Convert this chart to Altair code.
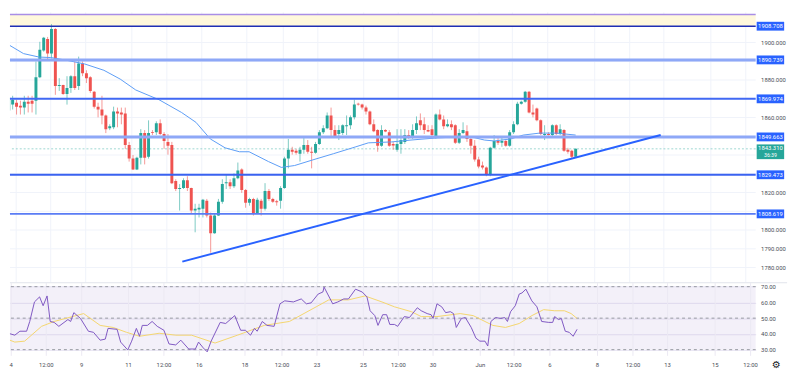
import altair as alt
import pandas as pd

# ---------------- data (4h candles, XAU/USD) ----------------
opens = [1863.7, 1866.9, 1867.9, 1866.35, 1865.3, 1868.4, 1869.0, 1869.0, 1881.5, 1895.7,
         1901.9, 1894.1, 1907.2, 1876.8, 1877.3, 1872.6, 1875.8, 1882.05, 1876.8, 1888.85,
         1883.6, 1881.5, 1873.7, 1865.8, 1864.3, 1861.1, 1854.3, 1854.8, 1863.2, 1862.7,
         1862.2, 1845.4, 1838.1, 1832.3, 1838.6, 1851.7, 1839.1, 1852.2, 1852.2, 1856.9,
         1851.2, 1847.0, 1845.4, 1826.1, 1821.9, 1822.4, 1826.6, 1822.4, 1810.4, 1810.9,
         1811.4, 1815.6, 1807.7, 1798.3, 1807.7, 1815.1, 1825.0, 1825.5, 1823.4, 1827.6,
         1832.3, 1821.35, 1814.5, 1816.6, 1808.8, 1815.6, 1811.4, 1820.8, 1816.6, 1815.4,
         1815.6, 1822.4, 1838.1, 1842.8, 1842.3, 1840.7, 1842.8, 1845.4, 1841.75, 1841.2,
         1845.9, 1852.2, 1854.3, 1861.1, 1853.3, 1851.2, 1851.7, 1855.4, 1855.9, 1860.1,
         1867.4, 1866.9, 1865.3, 1863.2, 1856.4, 1853.3, 1844.9, 1853.3, 1852.2, 1845.9,
         1842.8, 1845.9, 1847.0, 1850.65, 1849.6, 1853.3, 1858.5, 1856.4, 1853.3, 1853.8,
         1850.1, 1861.6, 1859.0, 1855.4, 1856.4, 1855.9, 1846.5, 1851.7, 1852.7, 1848.6,
         1844.9, 1837.6, 1834.4, 1833.4, 1829.7, 1843.85, 1847.5, 1846.5, 1847.5, 1844.9,
         1852.2, 1856.4, 1867.4, 1868.4, 1873.7, 1862.7, 1864.8, 1858.5, 1850.65, 1851.2,
         1850.65, 1855.9, 1851.2, 1853.3, 1842.8, 1842.3, 1839.1]
highs = [1877.3, 1871.6, 1869.5, 1869.0, 1871.6, 1871.6, 1871.6, 1889.9, 1900.4, 1903.0,
         1903.0, 1909.8, 1907.7, 1881.0, 1877.5, 1882.05, 1882.6, 1889.9, 1892.5, 1889.9,
         1885.2, 1882.05, 1874.2, 1867.9, 1871.6, 1861.6, 1856.4, 1865.8, 1865.3, 1865.3,
         1865.3, 1847.0, 1840.0, 1839.1, 1853.8, 1853.3, 1858.5, 1853.3, 1858.0, 1859.0,
         1852.2, 1851.2, 1847.0, 1827.1, 1824.5, 1827.6, 1828.7, 1822.6, 1814.0, 1814.0,
         1816.6, 1816.6, 1809.3, 1808.8, 1816.6, 1827.1, 1829.7, 1827.1, 1830.2, 1836.0,
         1832.9, 1821.9, 1817.2, 1817.2, 1817.2, 1816.6, 1825.0, 1821.9, 1817.2, 1816.1,
         1823.4, 1839.1, 1848.6, 1844.4, 1843.3, 1844.4, 1850.1, 1848.0, 1844.4, 1847.0,
         1853.3, 1855.9, 1862.7, 1865.3, 1855.9, 1855.9, 1856.4, 1861.1, 1861.1, 1869.5,
         1867.9, 1867.4, 1866.35, 1863.7, 1859.0, 1853.8, 1855.9, 1853.8, 1853.3, 1847.0,
         1853.8, 1853.8, 1853.8, 1853.3, 1856.4, 1860.6, 1862.2, 1860.1, 1855.9, 1855.9,
         1862.2, 1864.3, 1861.1, 1859.0, 1858.5, 1856.4, 1853.8, 1857.45, 1855.9, 1849.6,
         1848.0, 1839.1, 1836.5, 1833.9, 1844.4, 1850.65, 1849.6, 1849.6, 1848.0, 1853.3,
         1858.0, 1868.4, 1869.0, 1874.2, 1874.2, 1866.9, 1865.3, 1859.0, 1855.9, 1852.2,
         1856.4, 1856.4, 1856.4, 1853.8, 1843.85, 1842.8, 1843.5]
lows = [1862.7, 1864.3, 1861.6, 1861.6, 1861.6, 1862.7, 1862.7, 1861.6, 1881.0, 1895.1,
        1890.4, 1891.5, 1872.1, 1874.2, 1872.1, 1866.9, 1873.15, 1874.7, 1874.7, 1882.05,
        1878.4, 1873.15, 1864.8, 1860.1, 1856.4, 1851.7, 1853.3, 1853.8, 1854.8, 1856.4,
        1843.3, 1836.5, 1832.0, 1832.0, 1835.0, 1835.0, 1838.1, 1850.65, 1850.65, 1850.65,
        1843.3, 1840.2, 1824.5, 1820.8, 1810.4, 1821.9, 1820.8, 1808.8, 1798.8, 1806.7,
        1806.7, 1806.7, 1787.9, 1798.0, 1807.5, 1814.0, 1821.9, 1821.9, 1822.4, 1827.1,
        1819.8, 1811.9, 1813.0, 1807.7, 1808.5, 1807.7, 1810.4, 1815.6, 1814.5, 1813.0,
        1811.4, 1822.0, 1832.9, 1840.2, 1840.2, 1836.5, 1840.7, 1840.7, 1832.9, 1840.7,
        1845.4, 1851.2, 1853.8, 1850.1, 1849.6, 1848.0, 1850.65, 1850.65, 1853.8, 1859.0,
        1866.35, 1864.3, 1861.6, 1855.9, 1852.2, 1841.75, 1844.4, 1852.2, 1844.4, 1842.8,
        1841.75, 1840.7, 1845.9, 1848.6, 1848.6, 1851.2, 1853.3, 1851.2, 1852.2, 1848.6,
        1848.6, 1858.5, 1853.8, 1854.8, 1853.3, 1845.9, 1845.9, 1851.2, 1847.0, 1840.7,
        1836.5, 1832.9, 1832.3, 1828.7, 1828.7, 1843.3, 1845.4, 1844.4, 1844.4, 1844.4,
        1851.2, 1855.9, 1866.9, 1867.9, 1862.2, 1860.1, 1858.0, 1850.65, 1848.0, 1850.4,
        1850.1, 1850.65, 1850.65, 1841.75, 1840.7, 1838.1, 1838.6]
closes = [1870.5, 1869.5, 1865.8, 1865.3, 1868.4, 1867.4, 1867.4, 1881.5, 1896.2, 1902.5,
          1894.1, 1907.2, 1876.8, 1877.3, 1872.6, 1875.8, 1882.05, 1875.8, 1888.85, 1883.6,
          1881.0, 1874.2, 1865.8, 1864.3, 1861.1, 1853.8, 1855.4, 1863.2, 1862.2, 1861.6,
          1845.4, 1838.1, 1832.3, 1838.6, 1851.7, 1838.6, 1851.7, 1851.7, 1856.9, 1851.2,
          1847.5, 1844.9, 1825.0, 1821.9, 1822.4, 1826.6, 1822.4, 1810.4, 1811.4, 1811.9,
          1816.1, 1807.7, 1798.3, 1807.7, 1815.1, 1824.5, 1825.5, 1823.4, 1827.6, 1831.8,
          1821.35, 1814.5, 1816.6, 1808.8, 1816.1, 1811.4, 1820.8, 1816.6, 1815.1, 1814.8,
          1822.4, 1838.1, 1842.8, 1841.75, 1841.2, 1842.8, 1845.4, 1841.75, 1841.2, 1845.9,
          1852.2, 1854.3, 1861.1, 1853.3, 1850.1, 1853.3, 1855.9, 1855.9, 1860.1, 1866.9,
          1866.9, 1865.3, 1863.2, 1856.4, 1852.7, 1844.9, 1853.3, 1852.5, 1844.9, 1845.1,
          1845.9, 1848.0, 1850.65, 1849.6, 1853.3, 1856.9, 1855.9, 1853.3, 1852.5, 1850.65,
          1861.6, 1859.0, 1855.4, 1856.4, 1854.8, 1846.5, 1851.7, 1853.3, 1848.6, 1844.9,
          1837.6, 1833.9, 1833.4, 1829.7, 1843.85, 1847.5, 1846.5, 1847.5, 1844.9, 1852.2,
          1856.4, 1867.4, 1868.4, 1873.7, 1862.7, 1861.6, 1858.5, 1851.2, 1851.2, 1850.65,
          1855.9, 1851.2, 1853.8, 1842.3, 1841.75, 1839.1, 1843.31]

# moving average on price (candle index, price)
ma_idx = [-0.42, 3.8, 7.8, 10.8, 14.5, 19.5, 24.5, 28.7, 32.7, 38.7, 44.5, 48.2, 51.9, 55.7,
          59.4, 61.9, 66.9, 70.2, 73.6, 78.6, 83.6, 89.4, 92.6, 98.6, 103.6, 110.1, 115.0,
          119.3, 122.5, 125.0, 129.3, 132.5, 136.7, 141.0, 146.0]
ma_val = [1899.3, 1894.1, 1892.25, 1892.0, 1890.7, 1888.6, 1885.2, 1880.5, 1874.7, 1869.5,
          1862.7, 1857.45, 1848.6, 1843.85, 1841.75, 1841.75, 1836.5, 1833.4, 1834.4, 1837.6,
          1840.7, 1844.4, 1846.5, 1847.0, 1848.0, 1849.1, 1849.6, 1849.6, 1848.0, 1847.5,
          1848.6, 1850.65, 1851.7, 1851.7, 1850.65]

# RSI and its moving average
rsi_idx = [-0.4, 0.3, 2.8, 4.1, 5.8, 6.6, 7.8, 9.1, 10.0, 11.0,
           11.8, 12.8, 14.0, 16.3, 17.0, 17.8, 19.5, 21.5, 22.8, 24.5,
           25.8, 26.5, 28.8, 29.7, 31.5, 32.5, 33.7, 34.5, 35.2, 36.5,
           37.7, 39.0, 40.7, 42.0, 43.7, 45.0, 47.0, 48.7, 49.5, 50.7,
           51.7, 52.7, 55.0, 56.4, 58.7, 60.2, 61.4, 62.7, 63.7, 64.4,
           65.7, 66.9, 68.7, 70.2, 71.4, 73.6, 75.6, 76.9, 78.1, 79.9,
           81.1, 81.4, 83.6, 84.9, 86.4, 87.6, 89.4, 91.1, 92.3, 93.1,
           94.3, 95.1, 96.3, 97.3, 98.1, 99.3, 100.1, 101.8, 103.1, 105.1,
           106.1, 107.6, 108.6, 109.1, 110.1, 111.3, 112.3, 113.5, 114.3, 115.0,
           116.3, 117.3, 118.8, 120.0, 121.0, 122.3, 123.0, 123.8, 125.0, 126.3,
           127.3, 128.0, 128.8, 130.0, 131.0, 131.7, 132.7, 134.2, 135.5, 136.7,
           138.5, 139.5, 140.0, 141.0, 141.7, 142.7, 143.7, 144.7, 145.7]
rsi_val = [40.4, 41.0, 39.2, 41.7, 41.7, 47.9, 60.3, 63.5, 57.9, 64.1,
           47.9, 47.3, 44.8, 49.1, 47.9, 53.5, 49.8, 41.7, 41.0, 36.0,
           36.7, 43.5, 42.9, 34.8, 29.8, 35.4, 43.5, 38.5, 45.4, 45.4,
           47.9, 44.8, 42.3, 33.6, 33.0, 36.0, 30.4, 30.4, 34.8, 31.1,
           28.6, 35.4, 47.3, 46.6, 51.6, 42.3, 42.3, 39.2, 43.5, 41.7,
           47.9, 45.4, 44.8, 59.1, 61.0, 60.3, 62.2, 59.1, 59.7, 65.3,
           66.6, 69.7, 59.1, 60.3, 62.2, 62.2, 68.4, 66.6, 63.5, 54.7,
           51.6, 45.4, 52.2, 52.2, 46.0, 46.0, 44.8, 51.0, 50.4, 56.6,
           54.7, 52.9, 52.2, 49.8, 59.1, 57.2, 53.5, 54.1, 52.9, 44.1,
           49.8, 50.4, 44.1, 37.3, 35.4, 35.4, 32.3, 47.9, 50.4, 49.8,
           50.4, 47.9, 54.1, 57.9, 65.3, 66.0, 68.4, 61.0, 57.2, 47.9,
           47.3, 47.3, 51.0, 49.1, 49.8, 41.7, 41.0, 38.5, 42.9]
rsi_ma_idx = [-0.4, 2.8, 5.3, 9.6, 12.8, 20.3, 24.5, 27.8, 31.2, 34.5, 39.5, 43.7, 47.7,
              53.7, 59.4, 66.2, 72.6, 79.4, 82.6, 87.6, 91.8, 96.1, 99.3, 103.6, 106.1,
              110.1, 116.0, 119.3, 124.3, 127.5, 131.0, 134.2, 137.2, 140.0, 142.5, 144.2, 145.7]
rsi_ma_val = [37.9, 34.8, 35.4, 44.8, 47.9, 52.9, 45.4, 44.1, 41.0, 38.5, 40.4, 39.2, 39.2,
              34.2, 39.2, 45.4, 47.9, 57.2, 61.6, 61.6, 64.1, 60.3, 57.2, 54.1, 51.0,
              51.0, 52.9, 51.6, 45.4, 44.1, 46.6, 51.6, 55.4, 54.7, 54.7, 52.9, 49.8]

# drawings
level_prices = [1908.708, 1890.739, 1869.974, 1849.663, 1829.473, 1808.619]
zone_low = 1908.708
zone_high = 1915.0
last_price = 1843.310
countdown = "36:39"
trend_idx = [44.7, 167.9]
trend_price = [1783.15, 1850.65]

# time axis
tick_pos = [1.9, 10.8, 19.8, 31.7, 40.7, 49.7, 61.3, 70.7, 79.6, 91.4,
            100.3, 109.1, 121.1, 129.7, 138.8, 150.9, 159.9, 168.7, 180.8, 189.8]
tick_text = ["4", "12:00", "9", "11", "12:00", "16", "18", "12:00", "23", "25",
             "12:00", "30", "Jun", "12:00", "6", "8", "12:00", "13", "15", "12:00"]
price_grid = list(range(1780, 1911, 10))
price_labels = [1780, 1790, 1800, 1820, 1860, 1880, 1900]   # the ones not hidden by tags
rsi_ticks = [30, 40, 50, 60, 70]

# ---------------- styles / layout ----------------
W, HP, HR = 760, 275, 74
BX0, BX1 = 761, 789          # price-scale tags (pixels right of the plot)
BXC = (BX0 + BX1) / 2
FONT = "Roboto"
LBL = "#4a4d57"
level_styles = [("#1f2fb5", 1.5), ("#8ea8f7", 3), ("#4169f3", 2),
                ("#8ea8f7", 3), ("#3a62f0", 2), ("#5a7cf5", 2)]

xs = alt.Scale(domain=[1.5711, 1.5711 + W / 4.01], nice=False, zero=False)
ps = alt.Scale(domain=[1772.16, 1916.07], nice=False, zero=False)
rs = alt.Scale(domain=[26.07, 72.18], nice=False, zero=False)

price_axis = alt.Axis(orient="right", values=price_labels, format=".3f", grid=False,
                      ticks=False, domain=False, labelFontSize=6,
                      labelColor=LBL, labelPadding=5, labelFont=FONT, title=None,
                      labelOverlap=False)
rsi_axis = alt.Axis(orient="right", values=rsi_ticks, format=".2f", grid=True,
                    gridColor="#e9e5f3", ticks=False, domain=False, labelFontSize=6,
                    labelColor=LBL, labelPadding=5, labelFont=FONT, title=None,
                    labelOverlap=False)


def PX(f):
    return alt.X(f, type="quantitative", scale=xs, axis=None)


def PY(f):
    return alt.Y(f, type="quantitative", scale=ps, axis=price_axis)


def RY(f):
    return alt.Y(f, type="quantitative", scale=rs, axis=rsi_axis)


# ---------------- frames ----------------
n = len(opens)
cdf = pd.DataFrame({"i": list(range(n)), "open": opens, "high": highs,
                    "low": lows, "close": closes})
cdf["dir"] = ["up" if c >= o else "down" for o, c in zip(opens, closes)]
madf = pd.DataFrame({"i": ma_idx, "v": ma_val})
rdf = pd.DataFrame({"i": rsi_idx, "v": rsi_val})
rmdf = pd.DataFrame({"i": rsi_ma_idx, "v": rsi_ma_val})
tdf = pd.DataFrame({"pos": tick_pos, "label": tick_text})
gdf = pd.DataFrame({"p": price_grid})
ldf = pd.DataFrame({"p": level_prices})
zdf = pd.DataFrame({"lo": [zone_low], "hi": [zone_high]})
cpdf = pd.DataFrame({"p": [last_price], "t": [countdown]})
trdf = pd.DataFrame({"i": trend_idx, "p": trend_price})

colr = alt.Color("dir:N", scale=alt.Scale(domain=["up", "down"], range=["#26a69a", "#ef5350"]),
                 legend=None)

# ---------------- price panel ----------------
vgrid = alt.Chart(tdf).mark_rule(color="#f0f3fa", strokeWidth=1).encode(x=PX("pos"))
hgrid = alt.Chart(gdf).mark_rule(color="#f0f3fa", strokeWidth=1).encode(y=PY("p"))
zone = alt.Chart(zdf).mark_rect(color="#fff8dc").encode(
    y=PY("lo"), y2="hi", x=alt.value(0), x2=alt.value(W))
zone_top = alt.Chart(zdf).mark_rule(color="#a98ee6", strokeWidth=1.5).encode(y=PY("hi"))
cpline = alt.Chart(cpdf).mark_rule(color="#26a69a", opacity=0.45, strokeDash=[2, 2],
                                   strokeWidth=1).encode(y=PY("p"))
wicks = alt.Chart(cdf).mark_rule(strokeWidth=1, opacity=0.6, clip=True).encode(
    x=PX("i"), y=PY("low"), y2="high", color=colr)
bodies = alt.Chart(cdf).mark_bar(size=3, clip=True).encode(
    x=PX("i"), y=PY("open"), y2="close", color=colr)
ma = alt.Chart(madf).mark_line(color="#5b9cf6", strokeWidth=1, clip=True).encode(
    x=PX("i"), y=PY("v"))
level_layers = []
for k, (c, w) in enumerate(level_styles):
    level_layers.append(
        alt.Chart(ldf.iloc[[k]]).mark_rule(color=c, strokeWidth=w).encode(y=PY("p")))
trend = alt.Chart(trdf).mark_line(color="#2962ff", strokeWidth=2, clip=True).encode(
    x=PX("i"), y=PY("p"))
lbox = alt.Chart(ldf).mark_rule(color="#2962ff", strokeWidth=9).encode(
    x=alt.value(BX0), x2=alt.value(BX1), y=PY("p"))
ltext = alt.Chart(ldf).transform_calculate(lbl="format(datum.p, '.3f')").mark_text(
    color="white", fontSize=6, font=FONT, align="center", baseline="middle").encode(
    x=alt.value(BXC), y=PY("p"), text="lbl:N")
cpbox = alt.Chart(cpdf).mark_rule(color="#26a69a", strokeWidth=15, yOffset=3).encode(
    x=alt.value(BX0), x2=alt.value(BX1), y=PY("p"))
cptext = alt.Chart(cpdf).transform_calculate(lbl="format(datum.p, '.3f')").mark_text(
    color="white", fontSize=6, font=FONT, align="center", baseline="middle", yOffset=-0.5).encode(
    x=alt.value(BXC), y=PY("p"), text="lbl:N")
cptext2 = alt.Chart(cpdf).mark_text(
    color="white", fontSize=5.3, font=FONT, align="center", baseline="middle", yOffset=6.5).encode(
    x=alt.value(BXC), y=PY("p"), text="t:N")

price = alt.layer(vgrid, hgrid, zone, cpline, wicks, bodies, ma, zone_top, *level_layers, trend,
                  lbox, ltext, cpbox, cptext, cptext2).properties(width=W, height=HP)

# ---------------- RSI panel ----------------
bdf = pd.DataFrame({"lo": [30], "hi": [70]})
ddf = pd.DataFrame({"v": [30, 50, 70]})
band = alt.Chart(bdf).mark_rect(color="#7e57c2", opacity=0.09).encode(
    y=RY("lo"), y2="hi", x=alt.value(0), x2=alt.value(W))
rgrid = alt.Chart(tdf).mark_rule(color="#ece9f3", strokeWidth=1).encode(x=PX("pos"))
dashes = alt.Chart(ddf).mark_rule(color="#9598a1", strokeDash=[3, 3], strokeWidth=1).encode(
    y=RY("v"))
rsi_line = alt.Chart(rdf).mark_line(color="#7e57c2", strokeWidth=1, clip=True).encode(
    x=PX("i"), y=RY("v"))
rsi_ma = alt.Chart(rmdf).mark_line(color="#f4d56c", strokeWidth=1, clip=True).encode(
    x=PX("i"), y=RY("v"))
tlabels = alt.Chart(tdf).mark_text(fontSize=6, font=FONT, color=LBL, baseline="middle").encode(
    x=PX("pos"), y=alt.value(83), text="label:N")
gear = alt.Chart(pd.DataFrame({"g": ["\u2699"]})).mark_text(
    fontSize=10, font="DejaVu Sans", color="#131722", baseline="middle").encode(
    x=alt.value(781), y=alt.value(83), text="g:N")
sep = alt.Chart(pd.DataFrame({"s": [0]})).mark_rule(color="#e0e3eb", strokeWidth=1).encode(
    x=alt.value(0), x2=alt.value(792), y=alt.value(-0.5))

rsi = alt.layer(band, rgrid, dashes, rsi_ma, rsi_line, tlabels, gear, sep).properties(
    width=W, height=HR)

chart = alt.vconcat(price, rsi, spacing=1, bounds="flush").properties(
    padding=0, background="white").configure_view(stroke=None)

chart.save("out.html", embed_options={"renderer": "svg", "actions": False})
